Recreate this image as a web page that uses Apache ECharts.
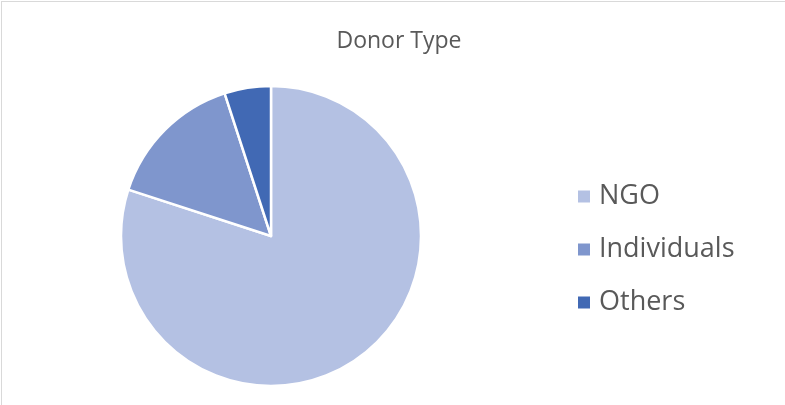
<!DOCTYPE html>
<html><head><meta charset="utf-8">
<script src="https://cdn.jsdelivr.net/npm/echarts@6/dist/echarts.min.js"></script>
<style>
html,body{margin:0;padding:0;background:#fff;}
#frame{position:absolute;left:1px;top:1px;width:790px;height:410px;border-left:1px solid #d9d9d9;border-top:1px solid #d9d9d9;}
#c{position:absolute;left:0;top:0;width:785px;height:405px;}
</style></head>
<body>
<div id="frame"></div>
<div id="c"></div>
<script>
const categories = ["NGO", "Individuals", "Others"];
const values = [80, 15, 5];
const colors = ["#B4C1E3", "#7F96CD", "#4169B4"];

const chart = echarts.init(document.getElementById('c'), null, {renderer:'canvas'});
chart.setOption({
  animation:false,
  title:{text:"Donor Type", left:394, top:25, textAlign:'center',
    textStyle:{fontFamily:"Open Sans", fontSize:23, fontWeight:'normal', color:'#595959'}},
  legend:{orient:'vertical', left:571, top:178, itemWidth:14, itemHeight:14, itemGap:26, icon:'rect',
    data:categories,
    textStyle:{fontFamily:"Open Sans", fontSize:27, lineHeight:27, color:'#595959', padding:[0,0,0,3]}},
  series:[{type:'pie', center:[271,236], radius:150, startAngle:90, clockwise:true,
    label:{show:false}, labelLine:{show:false},
    itemStyle:{borderColor:'#fff', borderWidth:2.5},
    emphasis:{disabled:true},
    data:categories.map((n,i)=>({name:n, value:values[i], itemStyle:{color:colors[i]}}))}]
});
</script>
</body></html>
